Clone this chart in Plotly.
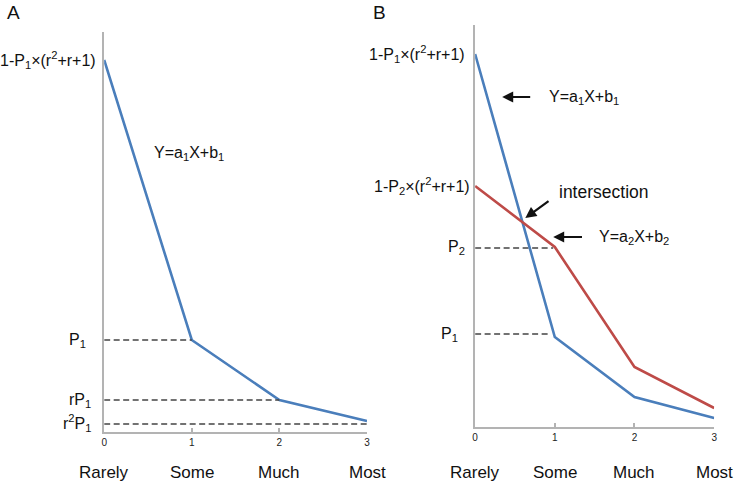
"""Piecewise response curves, panels A and B"""
import plotly.graph_objects as go

# data (y read in arbitrary units, 0 = x axis)
x_steps = [0, 1, 2, 3]
categories = ["Rarely", "Some", "Much", "Most"]

a_line1 = [372, 92, 32, 11]

b_line1 = [373, 90, 30, 9]
b_line2 = [241, 180, 60, 19]

# dashed guides: (level, x end)
a_guides = [(92, 1), (32, 2), (8, 3)]
b_guides = [(179, 0.98), (93, 0.95)]

BLUE = "#4a7ebb"
RED = "#be4b48"
AXIS = "#b3b3b3"
DASH = "#444444"
FONT = "Liberation Sans, Arial, sans-serif"
W, H = 737, 486

fig = go.Figure()

# panel A
fig.add_trace(go.Scatter(x=x_steps, y=a_line1, mode="lines",
                         line=dict(color=BLUE, width=2.6), xaxis="x", yaxis="y"))
for lvl, xe in a_guides:
    fig.add_trace(go.Scatter(x=[0, xe], y=[lvl, lvl], mode="lines",
                             line=dict(color=DASH, width=1.3, dash="6px,3.5px"),
                             xaxis="x", yaxis="y"))

# panel B
for lvl, xe in b_guides:
    fig.add_trace(go.Scatter(x=[0, xe], y=[lvl, lvl], mode="lines",
                             line=dict(color=DASH, width=1.3, dash="6px,3.5px"),
                             xaxis="x2", yaxis="y2"))
fig.add_trace(go.Scatter(x=x_steps, y=b_line1, mode="lines",
                         line=dict(color=BLUE, width=2.6), xaxis="x2", yaxis="y2"))
fig.add_trace(go.Scatter(x=x_steps, y=b_line2, mode="lines",
                         line=dict(color=RED, width=2.6), xaxis="x2", yaxis="y2"))

ax_common = dict(showgrid=False, zeroline=False, showline=True, linecolor=AXIS,
                 linewidth=2, mirror=False)
xa = dict(ax_common, range=[0, 3], tickvals=x_steps, ticks="inside", ticklen=4,
          tickcolor=AXIS, tickwidth=1.5, tickfont=dict(size=10, color="#222"))
ya = dict(ax_common, showticklabels=False, ticks="")

anns = []


def txt(x, y, text, xref, yref, xanchor="center", size=16):
    anns.append(dict(x=x, y=y, xref=xref, yref=yref, text=text, showarrow=False,
                     xanchor=xanchor, yanchor="middle",
                     font=dict(size=size, color="#111", family=FONT)))


# category names under each panel
for xi, cat in zip(x_steps, categories):
    txt(xi, 0.028, cat, "x", "paper", size=17)
    txt(xi, 0.028, cat, "x2", "paper", size=17)

# panel letters
txt(2 / W, 0.975, "A", "paper", "paper", xanchor="left", size=19)
txt(371 / W, 0.975, "B", "paper", "paper", xanchor="left", size=19)

# panel A labels (left of the axis, placed in paper x)
txt(96 / W, 372, "1-P<sub>1</sub>×(r<sup>2</sup>+r+1)", "paper", "y", xanchor="right")
txt(86 / W, 92, "P<sub>1</sub>", "paper", "y", xanchor="right")
txt(91 / W, 32, "rP<sub>1</sub>", "paper", "y", xanchor="right")
txt(91 / W, 9, "r<sup>2</sup>P<sub>1</sub>", "paper", "y", xanchor="right")
txt(0.55, 279, "Y=a<sub>1</sub>X+b<sub>1</sub>", "x", "y", xanchor="left")

# panel B labels
txt(468 / W, 373, "1-P<sub>1</sub>×(r<sup>2</sup>+r+1)", "paper", "y2", xanchor="right")
txt(473 / W, 241, "1-P<sub>2</sub>×(r<sup>2</sup>+r+1)", "paper", "y2", xanchor="right")
txt(468 / W, 180, "P<sub>2</sub>", "paper", "y2", xanchor="right")
txt(461 / W, 93, "P<sub>1</sub>", "paper", "y2", xanchor="right")
txt(0.9, 330, "Y=a<sub>1</sub>X+b<sub>1</sub>", "x2", "y2", xanchor="left")
txt(1.03, 235, "intersection", "x2", "y2", xanchor="left", size=17.5)
txt(1.53, 190, "Y=a<sub>2</sub>X+b<sub>2</sub>", "x2", "y2", xanchor="left")

# arrows (head at x,y; tail at ax,ay)
arrows = [(0.34, 330, 0.71, 330), (0.63, 209, 0.94, 227), (0.98, 190, 1.36, 190)]
for hx, hy, tx, ty in arrows:
    anns.append(dict(x=hx, y=hy, ax=tx, ay=ty, xref="x2", yref="y2",
                     axref="x2", ayref="y2", text="", showarrow=True,
                     arrowhead=2, arrowsize=1, arrowwidth=2.2, arrowcolor="#111"))

fig.update_layout(
    width=W, height=H,
    margin=dict(l=0, r=0, t=0, b=0),
    paper_bgcolor="white", plot_bgcolor="white",
    showlegend=False,
    font=dict(family=FONT),
    xaxis=dict(xa, domain=[102 / W, 367 / W], anchor="y"),
    yaxis=dict(ya, domain=[54 / H, 454 / H], range=[0, 400], anchor="x"),
    xaxis2=dict(xa, domain=[476 / W, 717 / W], anchor="y2"),
    yaxis2=dict(ya, domain=[59 / H, 461 / H], range=[0, 402], anchor="x2"),
    annotations=anns,
)

# drop the page's default body margin so the figure sits at the window corner
fig.write_html("out.html", config={"displayModeBar": False},
               post_script="document.body.style.margin='0';")
